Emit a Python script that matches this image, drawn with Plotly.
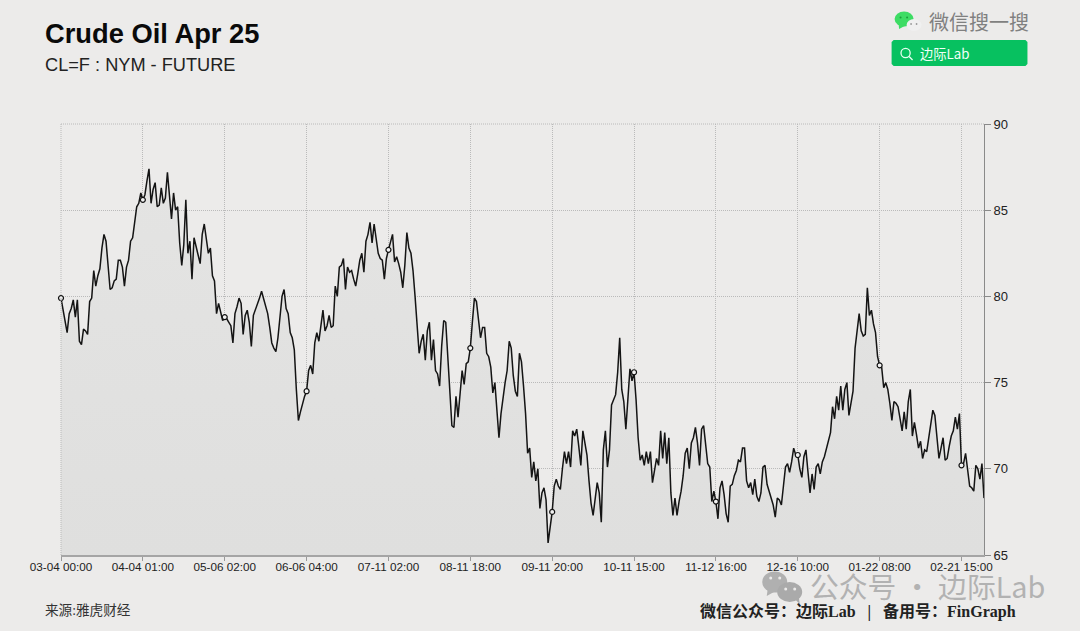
import plotly.graph_objects as go

# close prices, one list per labelled stretch of the axis
seg_mar = [79.9, 79.2, 78.4, 77.9, 79.0, 79.3, 79.8, 78.8, 79.8, 77.4, 77.2, 78.1, 78.0, 77.8, 79.7, 79.9, 81.5, 80.6, 81.2, 81.6,
           82.8, 83.6, 83.2, 81.9, 80.4, 80.5, 80.9, 81.0, 82.1, 82.1, 81.7, 80.6, 81.7, 82.1, 83.2, 83.4, 84.3, 85.2, 85.4, 86.0]
seg_apr = [85.6, 85.9, 86.7, 87.4, 85.4, 86.2, 86.6, 85.2, 85.3, 86.3, 85.4, 85.7, 87.2, 85.6, 84.5, 86.0, 85.0, 85.2, 83.1, 81.8,
           83.0, 85.6, 82.5, 83.2, 81.0, 83.4, 82.8, 82.4, 81.9, 83.6, 84.2, 83.4, 82.5, 82.8, 81.2, 80.9, 79.0, 79.6, 79.1, 78.6]
seg_may = [78.8, 78.7, 78.5, 78.3, 77.3, 79.0, 79.4, 79.9, 79.6, 77.8, 78.9, 79.2, 78.5, 77.1, 78.9, 79.2, 79.5, 79.9, 80.3, 79.9,
           79.4, 79.0, 78.2, 77.3, 77.0, 76.8, 77.6, 78.7, 80.0, 80.4, 79.3, 79.0, 77.9, 77.6, 76.9, 74.6, 72.8, 73.3, 73.8, 74.2]
seg_jun = [74.5, 75.7, 76.0, 75.5, 77.3, 77.9, 77.4, 78.4, 79.2, 78.0, 78.3, 78.9, 78.2, 78.3, 80.6, 80.0, 81.7, 81.8, 82.2, 80.4,
           81.7, 81.4, 81.5, 81.0, 80.6, 81.3, 82.1, 82.5, 81.4, 83.2, 83.6, 84.3, 83.1, 84.2, 83.4, 82.5, 82.2, 82.1, 81.0, 82.2]
seg_jul = [82.7, 83.1, 83.6, 82.0, 82.3, 81.9, 81.4, 80.5, 81.8, 83.7, 82.8, 82.5, 81.5, 80.0, 78.3, 76.7, 77.4, 77.8, 76.3, 78.0,
           78.5, 76.3, 77.5, 75.7, 75.5, 74.8, 77.1, 78.6, 78.5, 76.7, 74.3, 72.5, 72.4, 74.2, 73.0, 74.5, 75.7, 74.9, 76.1, 76.2]
seg_aug = [77.0, 78.5, 79.9, 79.7, 78.7, 77.6, 78.2, 78.2, 76.7, 76.5, 75.9, 74.4, 75.0, 73.4, 71.8, 73.2, 74.3, 75.0, 75.7, 77.4,
           77.0, 75.4, 74.5, 74.2, 76.7, 76.2, 74.8, 73.2, 70.9, 71.2, 69.5, 70.4, 69.3, 70.0, 67.7, 68.6, 68.9, 68.2, 65.7, 66.8]
seg_sep = [67.5, 69.0, 69.4, 69.0, 68.8, 70.0, 71.0, 70.3, 71.0, 70.1, 72.2, 71.9, 72.3, 71.3, 70.2, 72.2, 71.6, 70.8, 69.3, 68.0,
           67.3, 68.2, 69.2, 68.6, 66.9, 71.1, 72.2, 70.1, 71.1, 73.7, 74.0, 74.3, 75.6, 77.6, 74.6, 73.9, 72.3, 74.0, 75.8, 75.1]
seg_oct = [75.6, 74.0, 71.8, 70.5, 70.8, 70.2, 71.0, 70.3, 71.0, 69.2, 69.8, 70.6, 70.2, 72.2, 70.6, 72.1, 70.3, 71.8, 68.6, 67.3,
           68.3, 67.3, 68.1, 68.7, 69.6, 70.9, 71.2, 70.0, 71.5, 71.8, 72.4, 71.5, 70.2, 72.3, 72.5, 71.4, 70.3, 70.1, 68.1, 68.7]
seg_nov = [68.1, 67.1, 68.9, 69.3, 68.5, 67.4, 66.9, 69.0, 69.1, 69.6, 69.9, 70.5, 70.4, 71.2, 71.2, 69.3, 68.9, 69.2, 68.5, 69.4,
           68.4, 68.1, 68.6, 70.1, 70.2, 69.1, 68.7, 68.4, 67.9, 67.2, 68.3, 68.2, 67.9, 69.0, 70.1, 70.3, 69.8, 70.4, 71.2, 70.8]
seg_dec = [70.8, 70.0, 69.5, 70.7, 71.1, 69.8, 68.6, 69.7, 68.8, 70.1, 70.3, 69.7, 70.4, 70.7, 71.2, 71.7, 72.1, 73.6, 72.9, 74.2,
           73.4, 74.8, 73.4, 74.6, 75.0, 73.1, 73.8, 74.5, 77.0, 78.1, 79.0, 78.0, 77.7, 77.8, 80.5, 78.9, 79.2, 78.4, 77.9, 76.5]
seg_jan = [76.0, 75.9, 74.7, 75.0, 74.6, 73.8, 72.8, 73.9, 73.8, 73.6, 72.8, 72.2, 73.3, 72.3, 73.9, 74.6, 71.9, 72.7, 72.0, 71.2,
           71.6, 70.6, 71.1, 71.0, 71.8, 72.5, 73.4, 73.1, 72.0, 70.6, 71.2, 71.8, 70.5, 70.6, 71.3, 71.9, 72.2, 73.0, 72.3, 73.2]
seg_feb = [70.2, 70.3, 70.9, 69.8, 69.0, 68.9, 68.7, 70.2, 70.0, 69.4, 70.3, 68.3]

tick_labels = ["03-04 00:00", "04-04 01:00", "05-06 02:00", "06-06 04:00", "07-11 02:00", "08-11 18:00",
               "09-11 20:00", "10-11 15:00", "11-12 16:00", "12-16 10:00", "01-22 08:00", "02-21 15:00"]
y_ticks = [65, 70, 75, 80, 85, 90]

prices = (seg_mar + seg_apr + seg_may + seg_jun + seg_jul + seg_aug + seg_sep + seg_oct
          + seg_nov + seg_dec + seg_jan + seg_feb)
x = list(range(len(prices)))
tick_idx = x[::40]

W, H = 1080, 631
L, R, T, B = 60.5, 984.5, 124, 555
SANS = "Liberation Sans, Arial, Noto Sans CJK SC, sans-serif"
SERIF = "Liberation Serif, Noto Sans CJK SC, serif"
BG = "#ecebea"
GRID = "#bababa"
DOTS = "1px,1px"


def px_x(v):
    return (v - L) / (R - L)


def px_y(v):
    return (B - v) / (B - T)


def label(txt, x0, y0, size, color="#111", family=SANS, bold=False):
    if bold:
        txt = "<b>" + txt + "</b>"
    # annotations sit about 3px right of the given anchor
    return dict(text=txt, x=px_x(x0 - 3), y=px_y(y0), xref="paper", yref="paper", xanchor="left", yanchor="middle",
                showarrow=False, font=dict(size=size, color=color, family=family))


def dot(cx, cy, rx, ry, color, line=None):
    return dict(type="circle", xref="paper", yref="paper", x0=px_x(cx - rx), x1=px_x(cx + rx),
                y0=px_y(cy + ry), y1=px_y(cy - ry), fillcolor=color if line is None else "rgba(0,0,0,0)",
                line=dict(width=0 if line is None else 1.3, color=line or color))


def poly(points, color, width=0):
    d = "M " + " L ".join(f"{px_x(a):.5f},{px_y(b):.5f}" for a, b in points)
    if width == 0:
        d += " Z"
    return dict(type="path", xref="paper", yref="paper", path=d, fillcolor=color if width == 0 else None,
                line=dict(width=width, color=color))


def round_box(x0, y0, x1, y1, r, color):
    pts = [(x0 + r, y0), (x1 - r, y0), (x1, y0 + r), (x1, y1 - r), (x1 - r, y1), (x0 + r, y1), (x0, y1 - r), (x0, y0 + r)]
    return poly(pts, color)


fig = go.Figure()
fig.add_trace(go.Scatter(x=x, y=prices, mode="lines", line=dict(color="#141414", width=1.5),
                         fill="tozeroy",
                         fillgradient=dict(type="vertical", start=88, stop=65,
                                           colorscale=[[0, "#e4e4e3"], [1, "#dfdfde"]]),
                         hoverinfo="skip"))
fig.add_trace(go.Scatter(x=tick_idx, y=[prices[i] for i in tick_idx], mode="markers", cliponaxis=False,
                         marker=dict(size=5, color="#f2f2f2", line=dict(color="#111", width=1.2)),
                         hoverinfo="skip"))

shapes = [
    # top and left edges of the grid
    dict(type="line", xref="paper", yref="paper", x0=0, x1=1, y0=1, y1=1, line=dict(color=GRID, width=1, dash=DOTS)),
    dict(type="line", xref="paper", yref="paper", x0=0, x1=0, y0=0, y1=1, line=dict(color=GRID, width=1, dash=DOTS)),
    # search box, top right
    round_box(892, 40, 1028, 66, 2, "#07c160"),
    dot(906, 53, 4.6, 4.6, "#ffffff", line="#e8fff1"),
    poly([(909.5, 56.5), (913, 60)], "#e8fff1", width=1.3),
    # green chat bubbles
    dot(904.5, 19, 9.5, 7.5, "#3ddc64"),
    poly([(899, 24), (899.5, 29), (905, 26)], "#3ddc64"),
    dot(914.5, 25, 7.5, 6, "#f0f0f0"),
    dot(911.5, 24, 0.9, 0.9, "#9a9a9a"),
    dot(917, 24, 0.9, 0.9, "#9a9a9a"),
    dot(901, 17.5, 1, 1, "#1a9c3c"),
    dot(907.5, 17.5, 1, 1, "#1a9c3c"),
    # grey chat bubbles of the watermark
    dot(775, 582, 12.5, 10.5, "#b0b0b0"),
    poly([(768, 589), (767, 596), (776, 591)], "#b0b0b0"),
    dot(790, 592, 12.5, 10, "#aaaaaa"),
    poly([(795, 599), (800, 604), (799, 596)], "#aaaaaa"),
    dot(771, 578, 1.5, 1.5, BG),
    dot(780, 578, 1.5, 1.5, BG),
    dot(786, 589, 1.5, 1.5, BG),
    dot(795, 589, 1.5, 1.5, BG),
]

annotations = [
    label("Crude Oil Apr 25", 45, 33, 27.3, color="#0a0a0a", bold=True),
    label("CL=F : NYM - FUTURE", 45, 65, 18.2, color="#222"),
    label("微信搜一搜", 930, 21.5, 20, color="#808080", family="Noto Sans CJK SC"),
    label("边际Lab", 921, 53.5, 13.3, color="#f2fff7", family="Noto Sans CJK SC"),
    label("来源:雅虎财经", 45, 610.5, 13.6, color="#333", family=SERIF),
    label("微信公众号：边际Lab&nbsp;&nbsp;&nbsp;|&nbsp;&nbsp;&nbsp;备用号：FinGraph", 701, 611, 16, color="#222", family=SERIF, bold=True),
    label("公众号 · 边际Lab", 811, 585, 28.8, color="#b2b2b2", family="Noto Sans CJK SC"),
]

fig.update_layout(
    width=W, height=H, autosize=False,
    paper_bgcolor=BG, plot_bgcolor=BG,
    margin=dict(l=L, r=W - R, t=T, b=H - B, pad=0),
    showlegend=False,
    shapes=shapes,
    annotations=annotations,
    font=dict(family=SANS, color="#222"),
)
fig.update_xaxes(range=[0, len(prices) - 1], tickmode="array", tickvals=tick_idx, ticktext=tick_labels,
                 tickfont=dict(size=11.7, color="#222"), ticks="outside", ticklen=4, tickcolor="#9a9a9a",
                 ticklabelstandoff=-4,
                 showline=True, linecolor="#a5a5a5", linewidth=1.5,
                 showgrid=True, gridcolor=GRID, griddash=DOTS, gridwidth=1, zeroline=False)
fig.update_yaxes(range=[65, 90], side="right", tickmode="array", tickvals=y_ticks,
                 tickfont=dict(size=13, color="#222"), ticks="outside", ticklen=6, tickcolor="#8a8a8a",
                 showline=True, linecolor="#8a8a8a", linewidth=1,
                 showgrid=True, gridcolor=GRID, griddash=DOTS, gridwidth=1, zeroline=False)

fig.write_html("out.html", config={"displayModeBar": False},
               post_script="document.body.style.margin='0';document.body.style.background='" + BG + "';")
